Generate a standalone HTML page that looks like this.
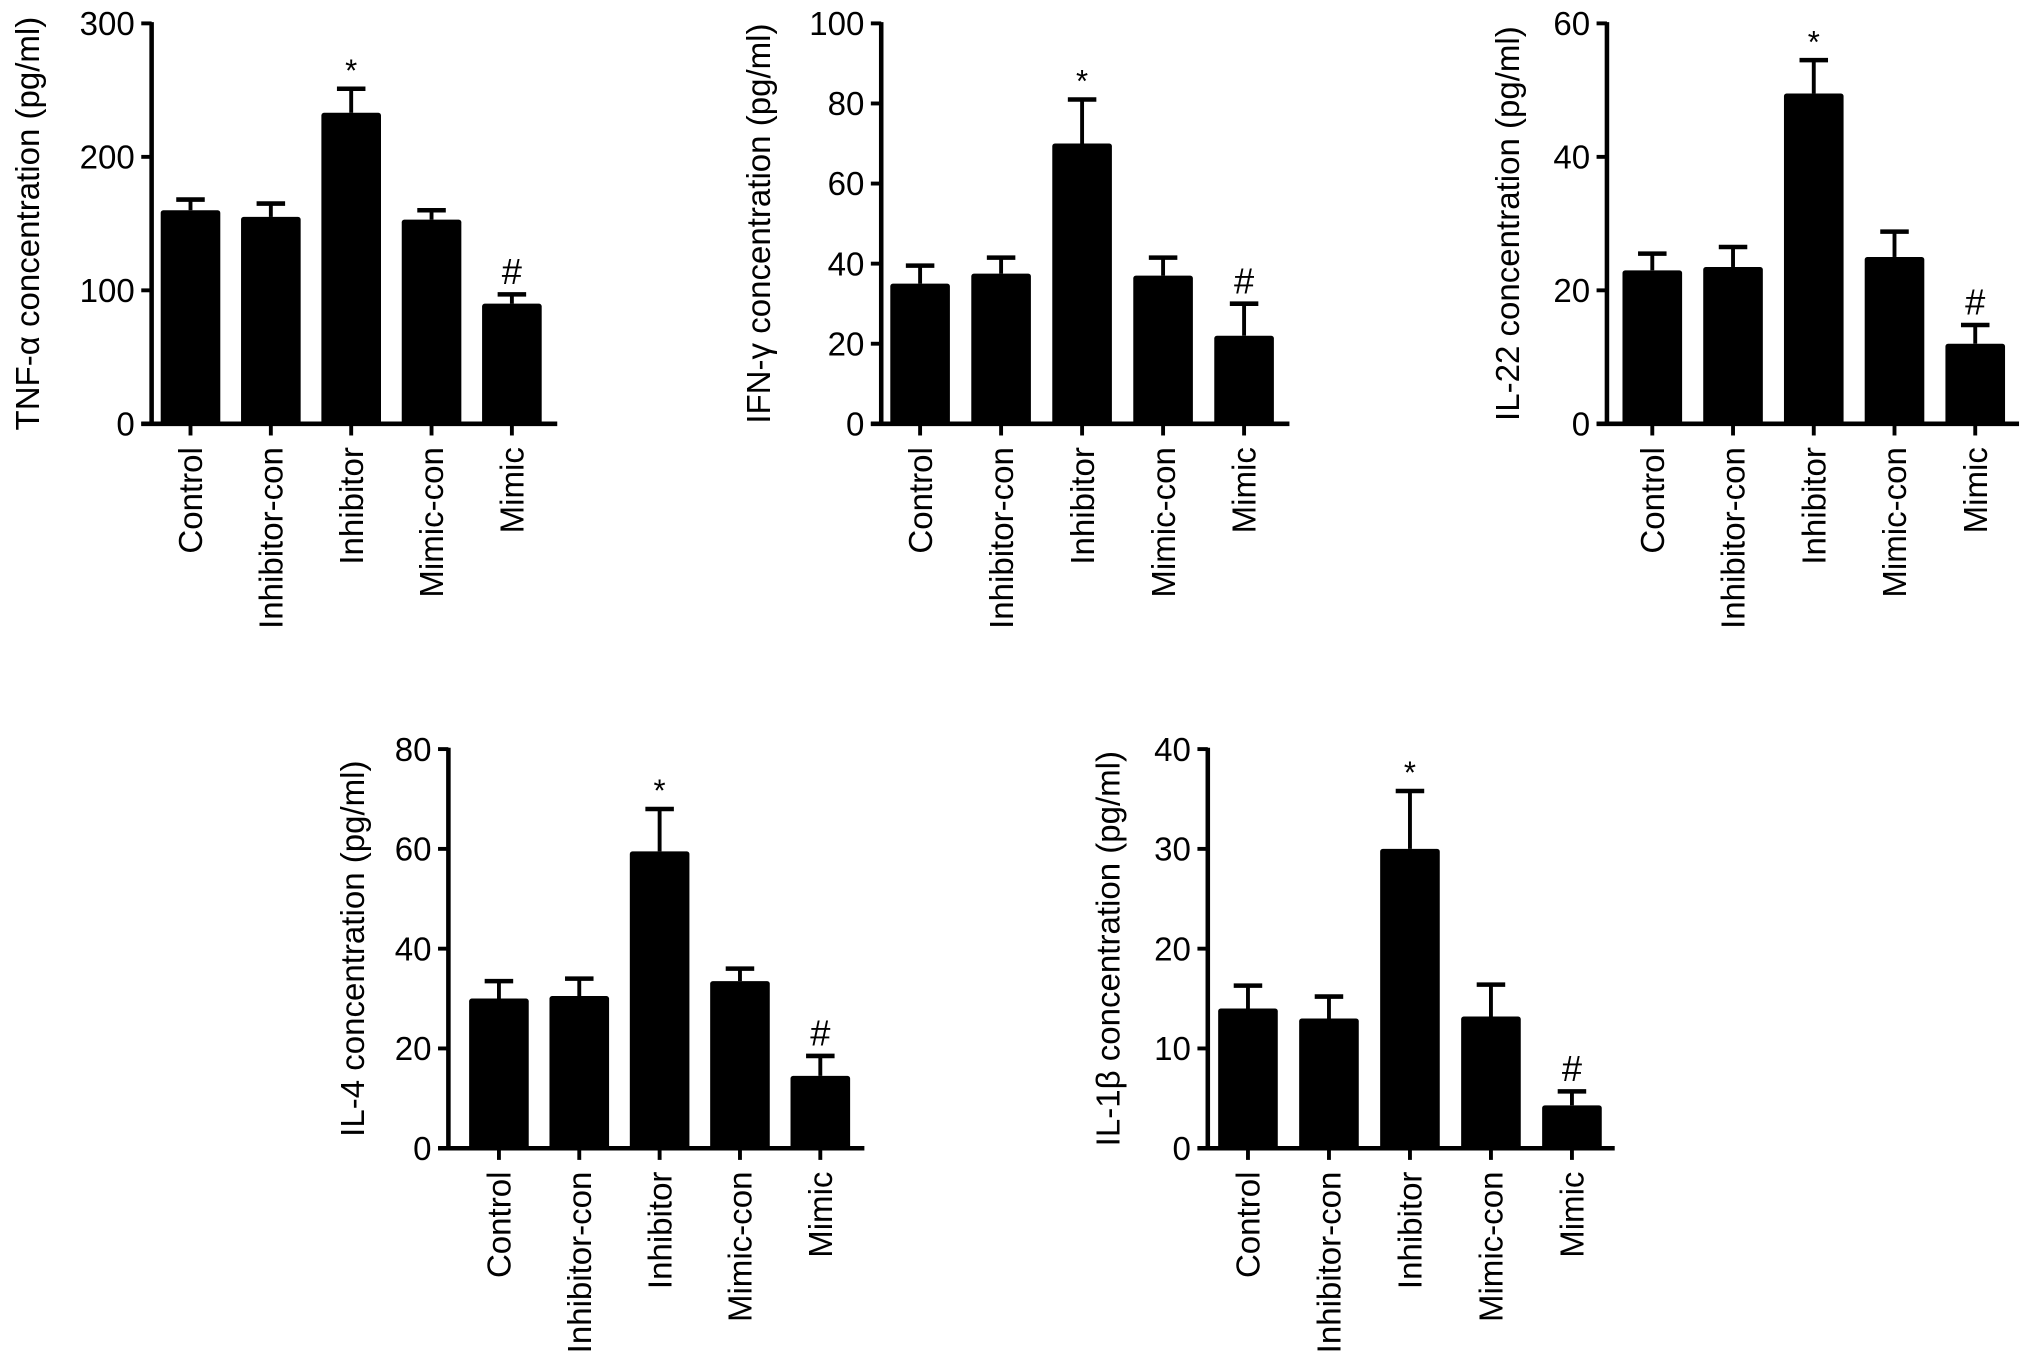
<!DOCTYPE html>
<html><head><meta charset="utf-8"><style>
html,body{margin:0;padding:0;background:#fff}
svg{display:block}
text{font-family:"Liberation Sans",sans-serif;fill:#000}
</style></head><body>
<svg id="fig" width="2032" height="1366" viewBox="0 0 1568 1054" xmlns="http://www.w3.org/2000/svg"></svg>
<script>
const categories = ["Control","Inhibitor-con","Inhibitor","Mimic-con","Mimic"];
const tnfValues = [160,155,233,153,90];
const tnfErrors = [8,10,18,7,7];
const ifnValues = [35,37.5,70,37,22];
const ifnErrors = [4.5,4,11,4.5,8];
const il22Values = [23,23.5,49.5,25,12];
const il22Errors = [2.5,3,5,3.8,2.8];
const il4Values = [30,30.5,59.5,33.5,14.5];
const il4Errors = [3.5,3.5,8.5,2.5,4];
const il1bValues = [14,13,30,13.2,4.3];
const il1bErrors = [2.3,2.2,5.8,3.2,1.4];
const tnfTicks = [0,100,200,300];
const ifnTicks = [0,20,40,60,80,100];
const il22Ticks = [0,20,40,60];
const il4Ticks = [0,20,40,60,80];
const il1bTicks = [0,10,20,30,40];
const marks = ["","","*","","#"];

const NS="http://www.w3.org/2000/svg";
const svg=document.getElementById('fig');
function el(tag,attrs,parent){const e=document.createElementNS(NS,tag);for(const k in attrs)e.setAttribute(k,attrs[k]);(parent||svg).appendChild(e);return e;}

function panel(name,title,vals,errs,ticks,ax,top,bottom,first,step,xend,titleX){
  const g=el('g',{});
  
  
  const maxV=ticks[ticks.length-1];
  const y=v=>bottom-(v/maxV)*(bottom-top);
  const x=i=>first+i*step;
  const bw=46;
  vals.forEach((v,i)=>{
    const cx=x(i);
    const eb=el('line',{x1:cx,x2:cx,y1:y(v),y2:y(v+errs[i]),stroke:'#000','stroke-width':3},g);
    
    
    const cap=el('line',{x1:cx-11,x2:cx+11,y1:y(v+errs[i]),y2:y(v+errs[i]),stroke:'#000','stroke-width':3.5},g);
    
    
    const r=el('rect',{x:cx-bw/2,y:y(v),width:bw,height:bottom-y(v),fill:'#000',rx:2},g);
    
    
    if(marks[i]){
      const m=el('text',{x:cx,y:y(v+errs[i])-(marks[i]==='*'?6:8),'text-anchor':'middle','font-size':marks[i]==='*'?24:28},g);
      m.textContent=marks[i];
      
      
    }
    const t=el('line',{x1:cx,x2:cx,y1:bottom,y2:bottom+9,stroke:'#000','stroke-width':3},g);
    
    
    const lb=el('text',{transform:`translate(${cx+9},${bottom+18}) rotate(-90)`,'text-anchor':'end','font-size':25.5},g);
    lb.textContent=categories[i];
    
    
  });
  const ya=el('line',{x1:ax,x2:ax,y1:top-1,y2:bottom+1.5,stroke:'#000','stroke-width':3.5},g);
  
  
  const xa=el('line',{x1:ax-8,x2:xend,y1:bottom,y2:bottom,stroke:'#000','stroke-width':3.5},g);
  
  
  ticks.forEach((tv,j)=>{
    const tl=el('line',{x1:ax-8,x2:ax,y1:y(tv),y2:y(tv),stroke:'#000','stroke-width':3},g);
    
    
    const tt=el('text',{x:ax-13,y:y(tv)+9,'text-anchor':'end','font-size':25.5},g);
    tt.textContent=tv;
    
    
  });
  const at=el('text',{transform:`translate(${titleX},${(top+bottom)/2}) rotate(-90)`,'text-anchor':'middle','font-size':25.5},g);
  at.textContent=title;
  
  
}
panel('tnf','TNF-\u03b1 concentration (pg/ml)',tnfValues,tnfErrors,tnfTicks,117,18,327,147,62,430,30);
panel('ifn','IFN-\u03b3 concentration (pg/ml)',ifnValues,ifnErrors,ifnTicks,680,18,327,710,62.5,995,594);
panel('il22','IL-22 concentration (pg/ml)',il22Values,il22Errors,il22Ticks,1240,18,327,1275,62.3,1558,1172);
panel('il4','IL-4 concentration (pg/ml)',il4Values,il4Errors,il4Ticks,346,578,886,385,62,667,281);
panel('il1b','IL-1\u03b2 concentration (pg/ml)',il1bValues,il1bErrors,il1bTicks,932,578,886,963,62.5,1246,864);
</script>
</body></html>
